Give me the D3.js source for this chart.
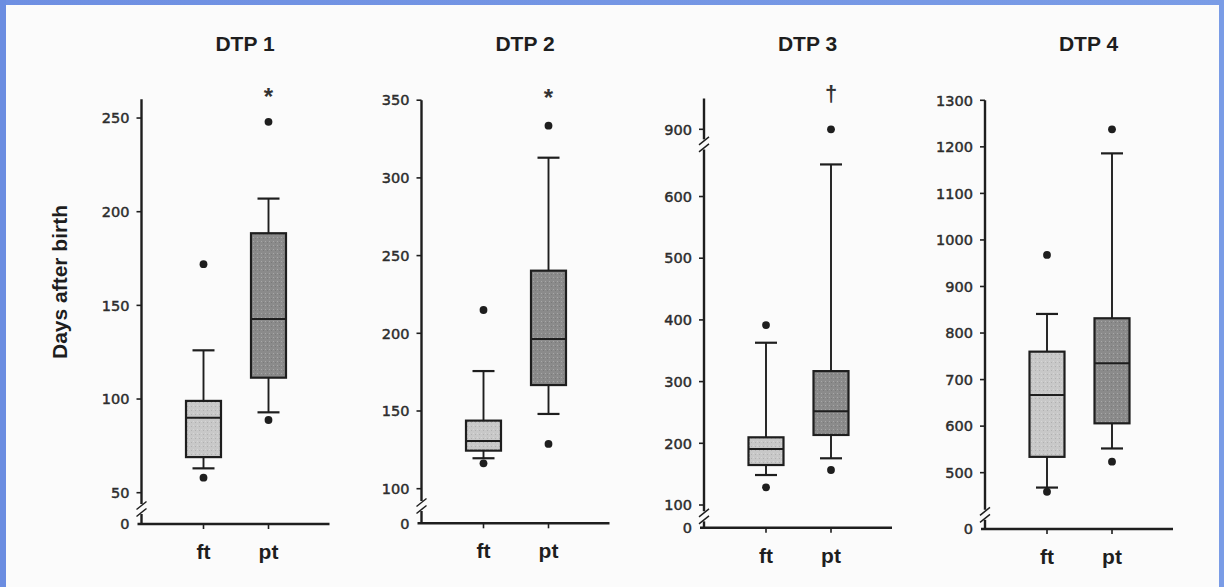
<!DOCTYPE html>
<html><head><meta charset="utf-8">
<script src="https://cdn.jsdelivr.net/npm/d3@7"></script>
<style>html,body{margin:0;padding:0;background:#fff;}svg{display:block;}</style>
</head><body>
<script>
// ---------- data ----------
const titles = ["DTP 1", "DTP 2", "DTP 3", "DTP 4"];
const groups = ["ft", "pt"];
const yTicks = [
  [0, 50, 100, 150, 200, 250],
  [0, 100, 150, 200, 250, 300, 350],
  [0, 100, 200, 300, 400, 500, 600, 900],
  [0, 500, 600, 700, 800, 900, 1000, 1100, 1200, 1300]
];
const yDomains = [
  [0, 50, 260],
  [0, 100, 350],
  [0, 100, 660, 900, 949],
  [0, 440, 1300]
];
// [whisker low, q1, median, q3, whisker high]
const ftStats = [
  [63, 69, 90, 99, 126],
  [119.6, 124.5, 130.7, 143.8, 175.7],
  [148.6, 164.8, 190.8, 209.7, 363],
  [468, 534, 667, 760, 841]
];
const ptStats = [
  [92.9, 111.4, 142.7, 188.5, 207],
  [148.1, 166.7, 196.3, 240.3, 313],
  [175.7, 213.5, 252, 317, 652],
  [552, 606, 735, 831.7, 1186]
];
const ftOutliers = [[58, 172], [116.3, 215], [128.7, 391.7], [459, 967.7]];
const ptOutliers = [[88.8, 248], [128.8, 333.6], [156.7, 900], [523.6, 1237.7]];
const sigMarks = ["*", "*", "\u2020", ""];
const breakValues = [[24], [50], [50, 780], [220]];

// ---------- layout ----------
const W = 1224, H = 587;
const axisX = [141.5, 421.5, 704, 985];
const yRanges = [
  [524, 492.7, 99.3],
  [523.3, 488.7, 100.2],
  [527.7, 505, 159.5, 129.3, 98.5],
  [529, 500.6, 100.3]
];
const xAxisLen = 188;
const boxW = 35, capW = 22;
const fills = {ft: "#c8c8c8", pt: "#8b8b8b"};

const svg = d3.select("body").append("svg").attr("width", W).attr("height", H);

// background + blue frame
const defs = svg.append("defs");
const g1 = defs.append("linearGradient").attr("id", "topg").attr("x1", 0).attr("x2", 1).attr("y1", 0).attr("y2", 0);
g1.append("stop").attr("offset", 0).attr("stop-color", "#6e8fe2");
g1.append("stop").attr("offset", 1).attr("stop-color", "#7a9ce6");
const pat = defs.append("pattern").attr("id", "stip").attr("width", 4).attr("height", 4).attr("patternUnits", "userSpaceOnUse");
pat.append("rect").attr("x", 1).attr("y", 1).attr("width", 1).attr("height", 1).attr("fill", "#fff").attr("opacity", 0.25);
pat.append("rect").attr("x", 3).attr("y", 2).attr("width", 1).attr("height", 1).attr("fill", "#000").attr("opacity", 0.12);

svg.append("rect").attr("width", W).attr("height", H).attr("fill", "#fbfbfb");
svg.append("rect").attr("x", 0).attr("y", 0).attr("width", W).attr("height", 5).attr("fill", "url(#topg)");
svg.append("rect").attr("x", 0).attr("y", 0).attr("width", 6).attr("height", H).attr("fill", "#6b8de1");
svg.append("rect").attr("x", W - 5).attr("y", 0).attr("width", 5).attr("height", H).attr("fill", "#7a9ce6");

const ink = "#1e1e1e";

titles.forEach((t, i) => {
  const ax = axisX[i];
  const y = d3.scaleLinear().domain(yDomains[i]).range(yRanges[i]);
  const x = d3.scalePoint().domain(groups).range([ax + 62, ax + 127]);
  const g = svg.append("g");
  const y0 = y(0);
  const yTop = y(yDomains[i][yDomains[i].length - 1]);

  // title
  g.append("text").attr("x", (x("ft") + x("pt")) / 2 + 9).attr("y", 51)
    .attr("text-anchor", "middle").attr("font-family", "Liberation Sans, Arial, sans-serif")
    .attr("font-weight", "bold").attr("font-size", 21).attr("fill", ink).text(t);

  // y axis line with gaps at breaks
  const breaksPx = breakValues[i].map(v => y(v)).sort((a, b) => a - b);
  let segs = [];
  let start = yTop;
  breaksPx.forEach(b => { segs.push([start, b - 5]); start = b + 5; });
  segs.push([start, y0]);
  segs.forEach(s => {
    g.append("line").attr("x1", ax).attr("x2", ax).attr("y1", s[0]).attr("y2", s[1])
      .attr("stroke", ink).attr("stroke-width", 2.4);
  });
  breaksPx.forEach(b => {
    [-3.5, 3.5].forEach(o => {
      g.append("line").attr("x1", ax - 5).attr("y1", b + o + 4).attr("x2", ax + 5).attr("y2", b + o - 4)
        .attr("stroke", ink).attr("stroke-width", 1.5);
    });
  });

  // y ticks
  yTicks[i].forEach(v => {
    const yy = y(v);
    if (v !== 0) {
      g.append("line").attr("x1", ax - 5).attr("x2", ax).attr("y1", yy).attr("y2", yy)
        .attr("stroke", ink).attr("stroke-width", 1.6);
    }
    g.append("text").attr("x", ax - 12).attr("y", yy).attr("dy", "0.36em")
      .attr("text-anchor", "end").attr("font-family", "DejaVu Sans, sans-serif")
      .attr("font-size", 14.5).attr("fill", "#2c2c2c").attr("stroke", "#2c2c2c").attr("stroke-width", 0.45)
      .text(v);
  });

  // x axis
  g.append("line").attr("x1", ax - 4).attr("x2", ax + xAxisLen).attr("y1", y0).attr("y2", y0)
    .attr("stroke", ink).attr("stroke-width", 2.4);
  groups.forEach(k => {
    g.append("line").attr("x1", x(k)).attr("x2", x(k)).attr("y1", y0).attr("y2", y0 + 5)
      .attr("stroke", ink).attr("stroke-width", 1.6);
    g.append("text").attr("x", x(k)).attr("y", y0 + 35).attr("text-anchor", "middle")
      .attr("font-family", "Liberation Sans, Arial, sans-serif").attr("font-weight", "bold")
      .attr("font-size", 21).attr("fill", ink).text(k);
  });

  // boxes
  const statsList = [ftStats[i], ptStats[i]];
  const outList = [ftOutliers[i], ptOutliers[i]];
  groups.forEach((k, j) => {
    const [wl, q1, med, q3, wh] = statsList[j];
    const cx = x(k);
    g.append("line").attr("x1", cx).attr("x2", cx).attr("y1", y(wh)).attr("y2", y(q3)).attr("stroke", ink).attr("stroke-width", 1.9);
    g.append("line").attr("x1", cx).attr("x2", cx).attr("y1", y(q1)).attr("y2", y(wl)).attr("stroke", ink).attr("stroke-width", 1.9);
    [wl, wh].forEach(v => {
      g.append("line").attr("x1", cx - capW / 2).attr("x2", cx + capW / 2).attr("y1", y(v)).attr("y2", y(v))
        .attr("stroke", ink).attr("stroke-width", 2.2);
    });
    g.append("rect").attr("x", cx - boxW / 2).attr("y", y(q3)).attr("width", boxW).attr("height", y(q1) - y(q3))
      .attr("fill", fills[k]).attr("stroke", ink).attr("stroke-width", 2.2);
    g.append("rect").attr("x", cx - boxW / 2 + 1).attr("y", y(q3) + 1).attr("width", boxW - 2).attr("height", y(q1) - y(q3) - 2)
      .attr("fill", "url(#stip)");
    g.append("line").attr("x1", cx - boxW / 2).attr("x2", cx + boxW / 2).attr("y1", y(med)).attr("y2", y(med))
      .attr("stroke", ink).attr("stroke-width", 1.9);
    outList[j].forEach(v => {
      g.append("circle").attr("cx", cx).attr("cy", y(v)).attr("r", 3.9).attr("fill", ink);
    });
  });

  // significance mark
  if (sigMarks[i]) {
    g.append("text").attr("x", x("pt")).attr("y", sigMarks[i] === "*" ? yTop + 6 : yTop + 2).attr("text-anchor", "middle")
      .attr("font-family", "Liberation Sans, Arial, sans-serif").attr("font-weight", "bold")
      .attr("font-size", sigMarks[i] === "*" ? 24 : 22).attr("fill", "#333")
      .text(sigMarks[i]);
  }
});

// y label
svg.append("text").attr("transform", "translate(67,282) rotate(-90)").attr("text-anchor", "middle")
  .attr("font-family", "Liberation Sans, Arial, sans-serif").attr("font-weight", "bold")
  .attr("font-size", 21).attr("fill", ink).text("Days after birth");
</script>
</body></html>
